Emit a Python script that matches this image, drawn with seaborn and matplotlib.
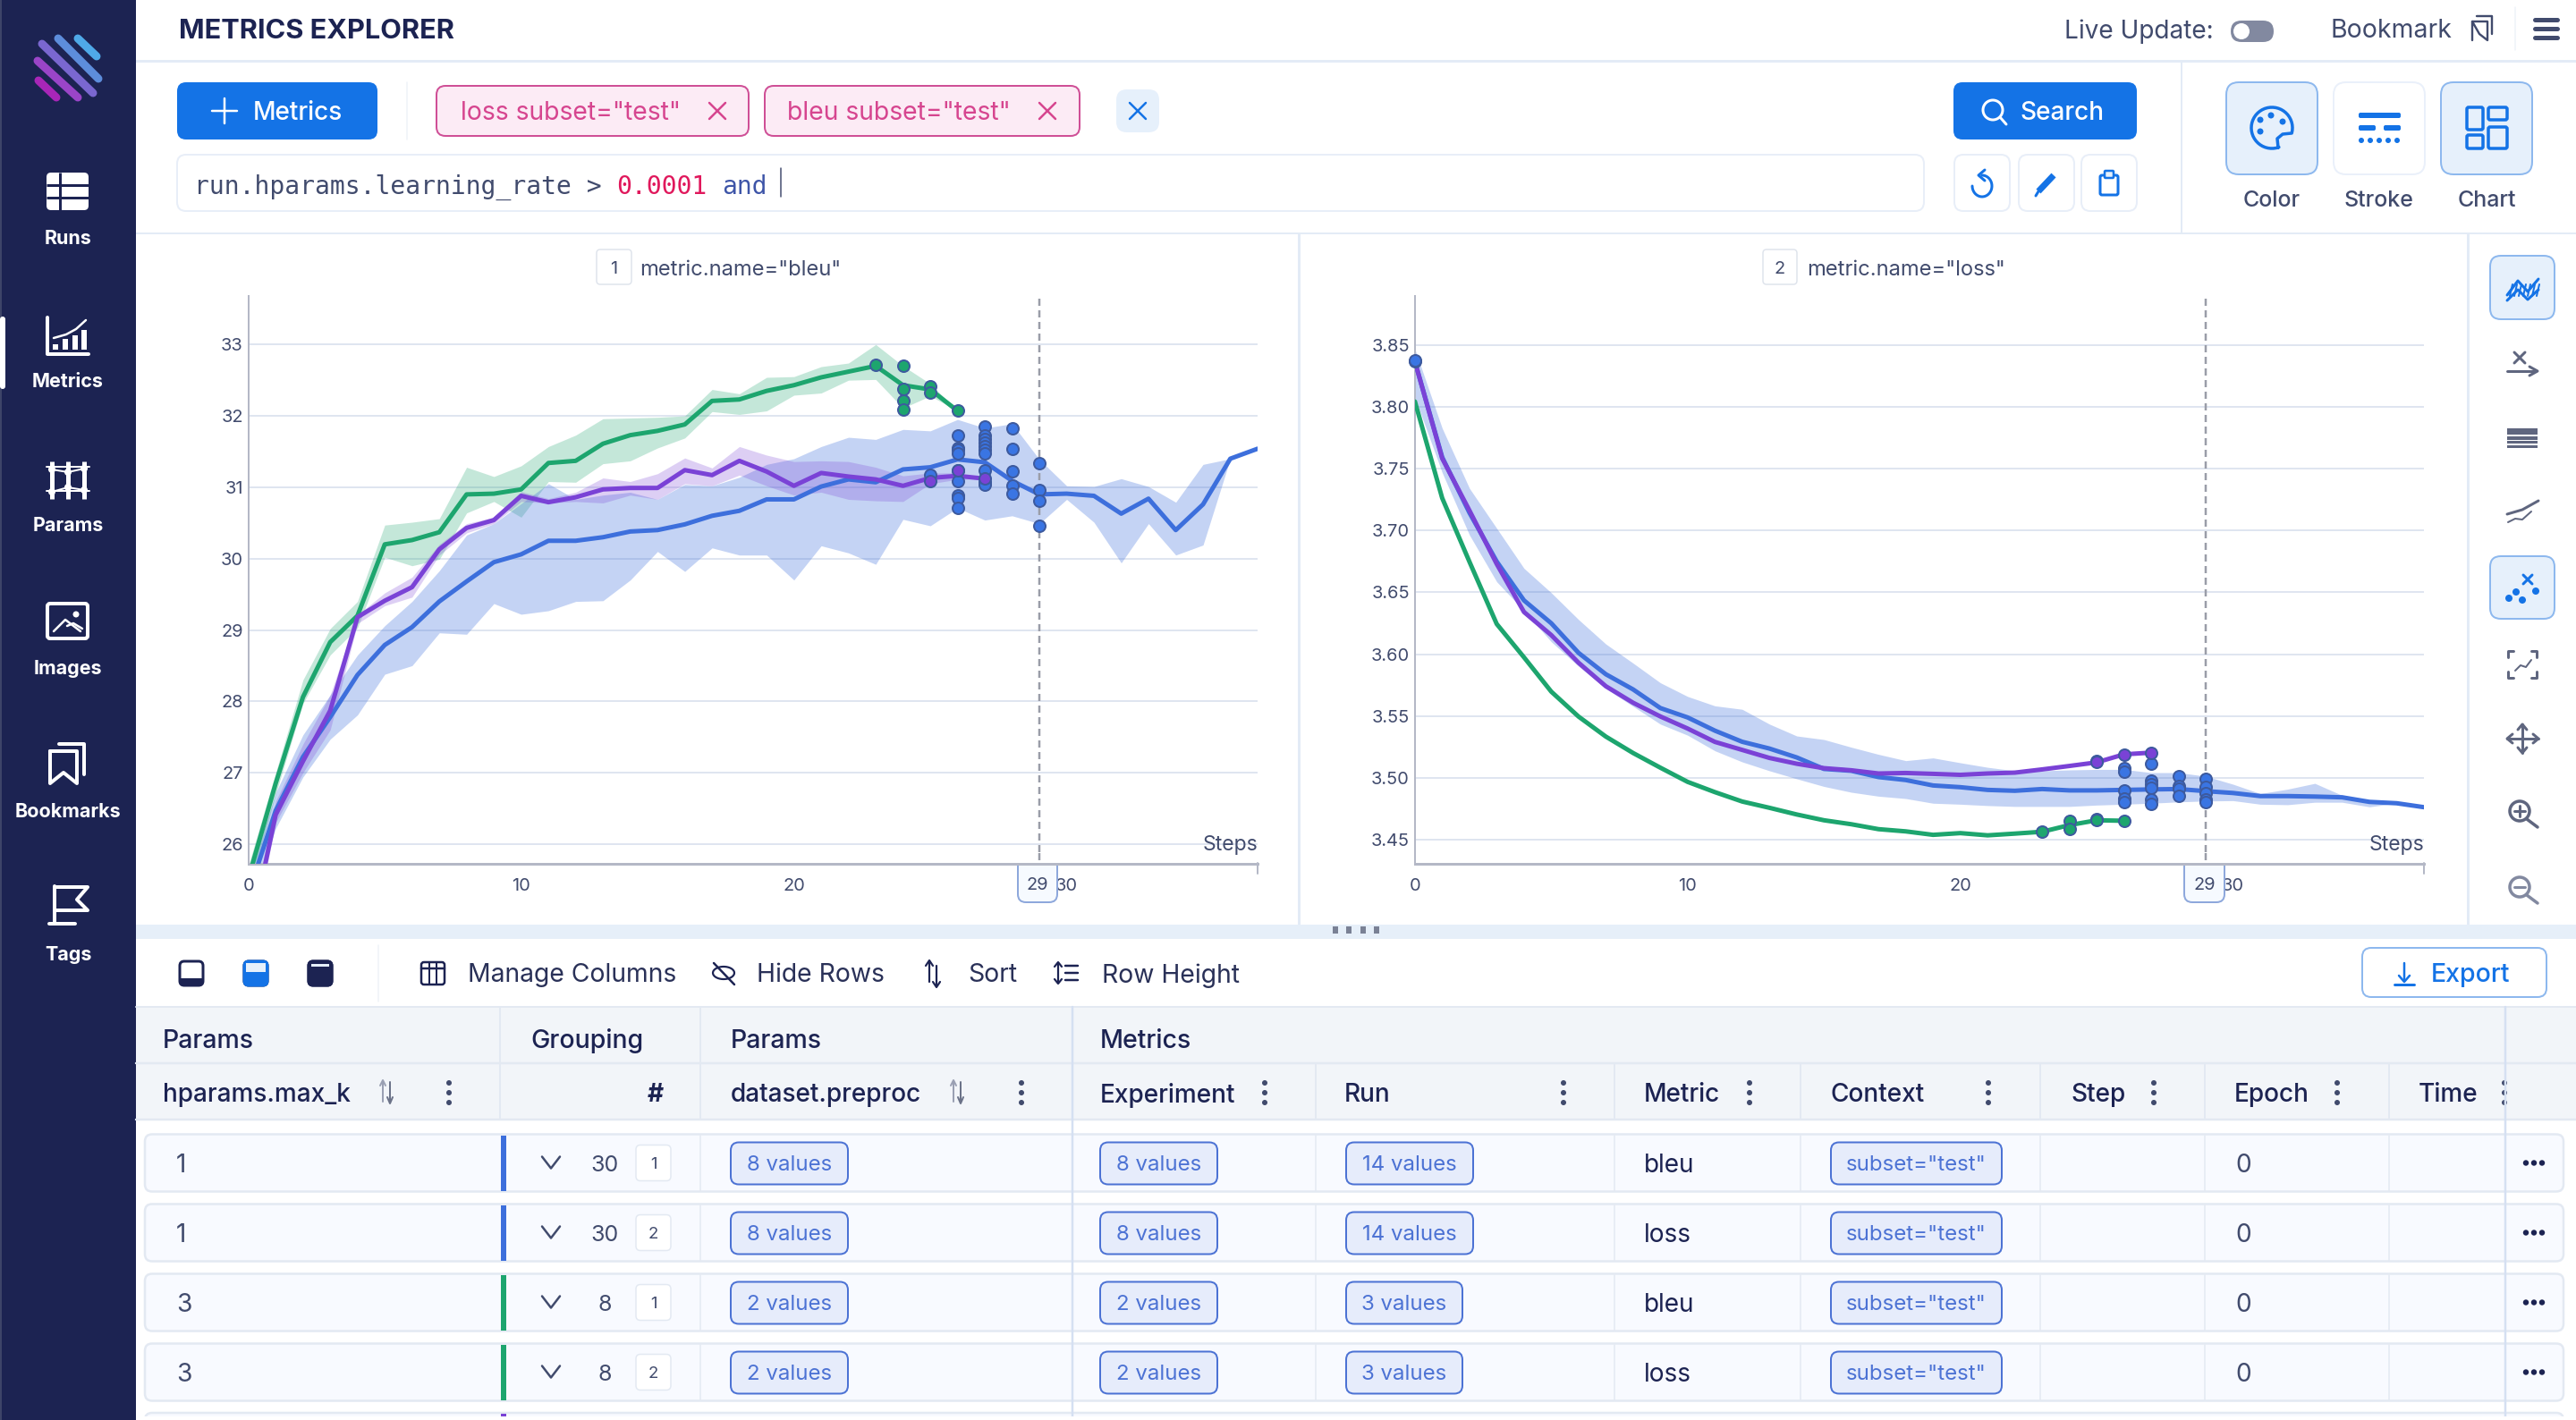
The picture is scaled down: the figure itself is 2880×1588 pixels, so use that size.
import matplotlib
matplotlib.use("Agg")
import matplotlib.pyplot as plt
from matplotlib.patches import FancyBboxPatch, Circle, Rectangle
import numpy as np
import seaborn as sns

# ---------- chart data ----------
bleu_blue = [25.3,26.47,27.22,27.78,28.37,28.79,29.04,29.40,29.68,29.95,30.06,30.25,30.25,30.30,30.38,30.40,30.48,30.60,30.67,30.83,30.83,31.01,31.11,31.07,31.25,31.28,31.39,31.35,31.09,30.90,30.91,30.88,30.63,30.84,30.40,30.76,31.40,31.54]
bleu_blue_hi = [25.5,26.72,27.53,28.09,28.65,29.06,29.40,29.83,30.33,30.49,30.77,31.05,30.83,30.89,30.93,30.83,31.04,31.02,31.14,31.32,31.40,31.57,31.70,31.67,31.81,31.79,31.95,31.83,31.89,31.39,31.02,31.01,31.12,31.01,30.79,31.32,31.40,31.54]
bleu_blue_lo = [25.1,26.22,26.94,27.47,27.81,28.38,28.50,28.96,28.94,29.37,29.22,29.27,29.40,29.41,29.70,30.10,29.82,30.15,30.05,30.05,29.70,30.18,30.08,29.92,30.55,30.46,30.71,30.54,30.60,30.49,30.83,30.51,29.94,30.49,30.05,30.19,31.40,31.54]
bleu_green = [25.52,26.85,28.06,28.83,29.20,30.20,30.26,30.37,30.90,30.91,30.97,31.34,31.37,31.61,31.73,31.79,31.88,32.21,32.23,32.35,32.43,32.54,32.62,32.70,32.43,32.37,32.07]
bleu_green_hi = [25.7,27.00,28.30,29.02,29.40,30.47,30.51,30.56,31.28,31.15,31.30,31.57,31.73,31.96,31.97,31.98,32.00,32.37,32.31,32.54,32.55,32.69,32.74,33.00,32.70,32.45,32.07]
bleu_green_lo = [25.3,26.70,27.97,28.65,29.03,30.02,29.90,29.99,30.64,30.80,30.58,31.08,31.07,31.33,31.37,31.55,31.69,32.06,32.02,32.07,32.29,32.32,32.50,32.51,32.11,32.28,32.07]
bleu_purple = [24.6,26.41,27.16,27.87,29.18,29.41,29.60,30.13,30.43,30.54,30.88,30.79,30.86,30.97,30.99,30.99,31.24,31.17,31.37,31.22,31.02,31.20,31.15,31.11,31.02,31.13,31.16,31.12]
bleu_purple_hi = [24.8,26.6,27.40,28.09,29.21,29.52,29.74,30.20,30.49,30.58,30.94,30.84,30.93,31.13,31.08,31.19,31.41,31.27,31.57,31.45,31.36,31.37,31.36,31.28,31.16,31.20,31.20,31.12]
bleu_purple_lo = [24.4,26.3,27.00,27.60,29.09,29.34,29.46,30.05,30.36,30.49,30.80,30.78,30.80,30.78,30.89,30.83,31.05,31.02,31.17,31.02,30.89,30.93,30.83,30.81,30.80,31.05,31.11,31.12]

loss_blue = [3.837,3.7595,3.7145,3.675,3.6435,3.625,3.601,3.5837,3.5714,3.5563,3.5487,3.538,3.529,3.5235,3.5163,3.507,3.5055,3.5004,3.498,3.4936,3.4922,3.490,3.4893,3.4907,3.4896,3.4896,3.490,3.4904,3.4907,3.489,3.4875,3.485,3.485,3.4846,3.484,3.4803,3.4792,3.476]
loss_blue_hi = [3.847,3.783,3.7343,3.7019,3.6695,3.6497,3.628,3.6082,3.5927,3.5768,3.5657,3.5581,3.5553,3.5433,3.5337,3.5308,3.5246,3.5188,3.5137,3.5159,3.512,3.5083,3.5055,3.5055,3.5062,3.5066,3.5066,3.504,3.504,3.5011,3.4946,3.487,3.4906,3.4953,3.4856,3.4817,3.4792,3.476]
loss_blue_lo = [3.808,3.747,3.6965,3.6586,3.6352,3.610,3.5902,3.5722,3.5577,3.5433,3.5343,3.5217,3.5127,3.5055,3.499,3.4928,3.4881,3.4849,3.483,3.4792,3.4784,3.4773,3.4766,3.4766,3.4766,3.4777,3.4784,3.4792,3.4803,3.481,3.4813,3.4784,3.478,3.480,3.480,3.4763,3.4792,3.476]
loss_green = [3.8046,3.7264,3.6748,3.6244,3.5974,3.5696,3.5494,3.5332,3.5199,3.508,3.4965,3.4882,3.4806,3.4755,3.4701,3.4654,3.4622,3.4582,3.4564,3.4536,3.455,3.4532,3.4546,3.4561,3.4615,3.4654,3.465]
loss_purple = [3.837,3.7585,3.7163,3.673,3.6341,3.6154,3.593,3.574,3.5606,3.5495,3.5397,3.5289,3.5224,3.5159,3.5112,3.5076,3.5059,3.5033,3.5037,3.503,3.5022,3.5033,3.504,3.5066,3.5094,3.5123,3.5188,3.5202]

bleu_pts_green_x = [23,24,24,24,24,25,25,26]
bleu_pts_green_y = [32.71,32.70,32.38,32.21,32.09,32.41,32.33,32.07]
bleu_pts_blue_x = [25] + [26]*9 + [27]*10 + [28]*5 + [29]*4
bleu_pts_blue_y = [31.17,31.72,31.55,31.52,31.47,31.24,31.09,30.89,30.85,30.71,31.85,31.72,31.67,31.63,31.58,31.52,31.47,31.24,31.08,31.03,31.82,31.54,31.23,31.02,30.91,31.34,30.96,30.81,30.46]
bleu_pts_purple_x = [25,26,27]
bleu_pts_purple_y = [31.09,31.24,31.12]

loss_pts_green_x = [23,24,24,25,25,26]
loss_pts_green_y = [3.4561,3.4651,3.4583,3.4666,3.4659,3.4651]
loss_pts_purple_x = [25,26,27]
loss_pts_purple_y = [3.5127,3.5188,3.5203]
loss_pts_blue_x = [0,0,25] + [26]*5 + [27]*6 + [28]*4 + [29]*5
loss_pts_blue_y = [3.837,3.838,3.5134,3.5073,3.5051,3.4893,3.4832,3.4803,3.5113,3.4976,3.4947,3.4918,3.4821,3.4785,3.5012,3.4929,3.4911,3.4853,3.499,3.4922,3.4875,3.4821,3.4799]

bleu_ticks = [26,27,28,29,30,31,32,33]
loss_ticks = [3.45,3.50,3.55,3.60,3.65,3.70,3.75,3.80,3.85]
x_ticks = [0,10,20,30]
cursor_step = 29

# ---------- labels ----------
sidebar_labels = ["Runs","Metrics","Params","Images","Bookmarks","Tags"]
header_groups = [("Params",182),("Grouping",593),("Params",817),("Metrics",1230)]
row_maxk = ["1","1","3","3"]
row_count = ["30","30","8","8"]
row_chart = ["1","2","1","2"]
row_dataset = ["8 values","8 values","2 values","2 values"]
row_run = ["14 values","14 values","3 values","3 values"]
row_metric = ["bleu","loss","bleu","loss"]

NAVY="#1c2352"; BLUE="#1473e6"; TXT="#414b6d"; DARK="#1c2352"; SOFT="#2a3158"
LINE_B="#3d6fdc"; LINE_G="#1da56e"; LINE_P="#7a42d6"; EDGE="#3d5a9e"; DOT_B="#3a75e3"
PALE="#e6f0fb"; BORD="#e3e9f2"

sns.set_theme(style="white")
plt.rcParams["font.family"] = ["Inter","DejaVu Sans"]

fig = plt.figure(figsize=(28.8,15.88), dpi=100, facecolor="white")
def overlay(z):
    a = fig.add_axes([0,0,1,1], zorder=z)
    a.set_xlim(0,2880); a.set_ylim(1588,0); a.axis("off"); a.patch.set_alpha(0)
    return a
bg = overlay(0)
top = overlay(10)

def pt(px): return px*0.72
def box(x0,y0,x1,y1,r=0,fc="white",ec="none",lw=1.5,a=bg,z=2):
    if r:
        p = FancyBboxPatch((x0,y0),x1-x0,y1-y0,boxstyle=f"round,pad=0,rounding_size={r}",fc=fc,ec=ec,lw=pt(lw),zorder=z)
    else:
        p = Rectangle((x0,y0),x1-x0,y1-y0,fc=fc,ec=ec,lw=pt(lw),zorder=z)
    a.add_patch(p); return p
def txt(x,y,s,px=29,c=TXT,ha="left",w="normal",fam=None,a=bg,z=5):
    kw = {"family":fam} if fam else {}
    return a.text(x,y,s,fontsize=pt(px),color=c,ha=ha,va="center_baseline",fontweight=w,zorder=z,**kw)
def ln(xs,ys,c="white",lw=3,a=bg,z=4,cap="round",ls="-"):
    a.plot(xs,ys,color=c,lw=pt(lw),solid_capstyle=cap,ls=ls,zorder=z,solid_joinstyle="round")
def dot(x,y,r,c="white",a=bg,z=4,ec="none",lw=1):
    a.add_patch(Circle((x,y),r,fc=c,ec=ec,lw=pt(lw),zorder=z))
def cross(x,y,r,c,lw=2.5):
    ln([x-r,x+r],[y-r,y+r],c,lw); ln([x-r,x+r],[y+r,y-r],c,lw)

# ---------- sidebar ----------
box(0,0,152,1588,fc=NAVY,z=1)
box(0,0,2,1588,fc="#3d4468",z=1)
box(0,354,6,435,r=3,fc="white")
for (xy,c) in [(((87,108),(43,63)),"#4fa9e8"),(((65,110),(43,88)),"#5d8ddb"),(((47,104),(49,104)),"#7a67d0"),(((42,87),(68,109)),"#9a45c8"),(((43,63),(90,109)),"#a826b8")]:
    ln(xy[0],xy[1],c,9)
for lab,y in zip(sidebar_labels,[265,425,586,746,906,1066]):
    txt(76,y,lab,21.5,"white","center","bold")
# Runs icon
box(52,193,99,235,r=5,fc="white")
ln([52,99],[207,207],NAVY,3,cap="butt"); ln([52,99],[221,221],NAVY,3,cap="butt"); ln([67,67],[193,235],NAVY,3,cap="butt")
# Metrics icon
ln([53,53,99],[355,396,396],"white",4)
for x,h in [(62,6),(73,12),(84,16),(94,22)]:
    box(x-3,391-h,x+3,391,fc="white")
ln([60,74,85,96],[378,374,368,358],"white",2.5)
# Params icon
for x in [58,76,94]: ln([x,x],[516,558],"white",5,cap="butt")
ln([52,100],[522,522],"white",2); ln([52,100],[549,549],"white",2)
ln([58,76,94],[525,528,524],"white",2); ln([58,76,94],[550,545,548],"white",2)
for x,y in [(58,525),(76,528),(94,524),(58,550),(76,545),(94,548)]: dot(x,y,4)
# Images icon
box(53,675,98,714,r=3,fc="none",ec="white",lw=4)
ln([60,73,90],[706,693,706],"white",2.5); ln([75,82,92],[700,697,703],"white",2.5); dot(85,687,3.5)
# Bookmarks icon
ln([56,56,71,86,86,56],[840,876,864,876,840,840],"white",4)
ln([66,94,94],[832,832,866],"white",4)
# Tags icon
ln([55,84],[1033,1033],"white",4); ln([61,61],[1033,991],"white",4)
ln([61,98,86,98,61],[992,992,1006,1018,1018],"white",4)

# ---------- top bar ----------
box(152,67,2880,70,fc="#e3ebf6")
txt(200,32,"METRICS EXPLORER",30.8,DARK,w="bold")
txt(2308,32,"Live Update:",28,TXT)
box(2494,23,2542,47,r=12,fc="#8289a0"); dot(2506,35,9,"white",z=5)
txt(2606,32,"Bookmark",28.4,TXT)
ln([2764,2764,2772,2781,2781,2764],[45,24,38,45,24,24],TXT,2.4); ln([2769,2786,2786],[18,18,38],TXT,2.4)
ln([2812,2812],[8,56],"#eef2f8",1.5)
for y in [22,32,42]: ln([2834,2859],[y,y],TXT,5)

# ---------- search block ----------
box(198,92,422,156,r=10,fc=BLUE)
ln([237,265],[124,124],"white",2.5); ln([251,251],[110,138],"white",2.5)
txt(283,124,"Metrics",28,"white",w="medium")
ln([455,455],[92,156],"#eef2f8",1.5)
for (x0,x1,tx,xx,s) in [(488,837,515,802,'loss subset="test"'),(855,1207,880,1171,'bleu subset="test"')]:
    box(x0,96,x1,152,r=10,fc="#fcebf5",ec="#cf4f96",lw=2)
    txt(tx,124,s,28.3,"#d6458f")
    cross(xx,124,9,"#d6458f",2.5)
box(1248,100,1296,148,r=12,fc=PALE); cross(1272,124,9,BLUE,2.5)
box(198,173,2151,236,r=10,fc="white",ec="#e8eef8",lw=2)
mono="DejaVu Sans Mono"
txt(217,206,"run.hparams.learning_rate >",28,TXT,fam=mono)
txt(217+16.85*28,206,"0.0001",28,"#e0185c",fam=mono)
txt(217+16.85*35,206,"and",28,"#3e55a8",fam=mono)
ln([873,873],[188,220],TXT,1.5)
box(2184,92,2389,156,r=10,fc=BLUE)
bg.add_patch(Circle((2228,123),11,fc="none",ec="white",lw=pt(3),zorder=4)); ln([2236,2243],[131,139],"white",3)
txt(2258,124,"Search",28,"white",w="medium")
for x0,x1 in [(2185,2247),(2257,2319),(2327,2389)]:
    box(x0,173,x1,236,r=10,fc="white",ec="#e8eef8",lw=2)
th=np.linspace(-np.pi/2,np.pi,30)
ln(2216+11*np.cos(th),208+12*np.sin(th),BLUE,3); ln([2219,2212,2219],[190,196,202],BLUE,3)
ln([2279,2296],[214,196],BLUE,7,cap="butt"); ln([2276,2279],[219,214],BLUE,3)
box(2348,196,2368,218,r=2,fc="none",ec=BLUE,lw=3); box(2353,191,2363,199,r=1,fc=PALE,ec=BLUE,lw=2.5,z=5)
ln([2439,2439],[70,260],"#e3ebf6",2)
for (x0,x1,act,lab) in [(2489,2591,True,"Color"),(2609,2711,False,"Stroke"),(2729,2831,True,"Chart")]:
    box(x0,92,x1,195,r=14,fc=PALE if act else "white",ec="#8db8ee" if act else "#eaf0fa",lw=2)
    txt((x0+x1)/2,222,lab,25,TXT,"center",w="medium")
th=np.radians(np.linspace(70,375,40))
pal_x=list(2540+23*np.cos(th))+[2552,2546,2547]
pal_y=list(143+23*np.sin(th))+[150,155,165]
ln(pal_x,pal_y,BLUE,3.5)
for x,y in [(2527,134),(2539,129),(2552,136),(2527,147)]: dot(x,y,3.5,BLUE)
box(2637,126,2684,132,fc=BLUE,r=2)
box(2637,140,2656,146,fc=BLUE,r=2); box(2665,140,2684,146,fc=BLUE,r=2)
for x in np.arange(2640,2684,10): dot(x,157,3,BLUE)
for (a0,a1,b0,b1) in [(2758,2776,120,145),(2782,2803,120,134),(2758,2776,151,166),(2782,2803,142,166)]:
    box(a0,b0,a1,b1,r=2,fc="none",ec=BLUE,lw=3.5)

# ---------- dividers ----------
box(152,260,2880,262,fc="#e3ebf6")
box(1451,260,1454,1036,fc="#e3ebf6")
box(2758,260,2761,1036,fc="#e3ebf6")
box(152,1034,2880,1050,fc="#e6eff9")
for x in [1490,1505,1521,1536]: box(x,1036,x+6,1044,fc="#7a8195",z=6)

# ---------- right toolbar ----------
box(2784,286,2856,357,r=12,fc=PALE,ec="#8db8ee",lw=2)
box(2784,622,2856,692,r=12,fc=PALE,ec="#8db8ee",lw=2)
GR="#5f667f"
ln([2803,2815,2826,2838],[330,314,326,312],BLUE,3); ln([2803,2815,2826,2838],[336,324,335,324],BLUE,3)
for x in range(2806,2838,5): ln([x,x+3],[331,318],BLUE,2)
ln([2803,2835],[415,415],GR,3); ln([2828,2837,2828],[410,415,420],GR,3); cross(2817,400,6,GR,3)
for y,h in [(480,7),(489,4),(494,3),(499,3)]: box(2803,y-1,2837,y-1+h,fc=GR)
ln([2803,2820,2838],[575,570,560],GR,3); ln([2804,2812,2820,2830],[584,580,581,572],GR,2)
for x,y in [(2805,669),(2820,671),(2813,662),(2835,661)]: dot(x,y,4,BLUE)
cross(2826,648,5,BLUE,3)
for sx,sy in [(2804,728),(2836,728),(2804,758),(2836,758)]:
    dx = 1 if sx<2820 else -1; dy = 1 if sy<743 else -1
    ln([sx,sx,sx+dx*6],[sy+dy*7,sy,sy],GR,3)
ln([2812,2818,2824,2830],[750,744,746,738],GR,2)
ln([2803,2838],[826,826],GR,3); ln([2820,2820],[810,842],GR,3)
ln([2809,2803,2809],[821,826,831],GR,3); ln([2832,2838,2832],[821,826,831],GR,3)
ln([2815,2820,2825],[816,810,816],GR,3); ln([2815,2820,2825],[836,842,836],GR,3)
for (y,c,plus) in [(907,GR,True),(992,"#8289a0",False)]:
    bg.add_patch(Circle((2817,y),11,fc="none",ec=c,lw=pt(3.5),zorder=4))
    ln([2825,2837],[y+9,y+18],c,3.5); ln([2811,2823],[y,y],c,3)
    if plus: ln([2817,2817],[y-6,y+6],c,3)

# ---------- chart titles ----------
for (x0,x1,num,tx,s) in [(667,706,"1",715,'metric.name="bleu"'),(1971,2009,"2",2020,'metric.name="loss"')]:
    box(x0,279,x1,318,r=4,fc="white",ec="#dfe4ec",lw=1.5)
    txt((x0+x1)/2,299,num,20,TXT,"center")
    txt(tx,299,s,23.7,TXT)

# ---------- charts ----------
def chart_ax(x0,x1,y0=330.6,y1=965.5):
    a = fig.add_axes([x0/2880,1-y1/1588,(x1-x0)/2880,(y1-y0)/1588],zorder=5)
    a.patch.set_alpha(0)
    return a

def style(a,ylim,ticks,fmt):
    a.set_xlim(0,37); a.set_ylim(*ylim)
    a.set_xticks(x_ticks); a.set_yticks(ticks); a.set_yticklabels([fmt%t for t in ticks])
    a.tick_params(axis="y",length=0,pad=pt(6),labelsize=pt(20),labelcolor=TXT)
    a.tick_params(axis="x",length=0,pad=pt(16),labelsize=pt(20),labelcolor=TXT)
    a.set_xlabel(""); a.set_ylabel("")
    a.grid(axis="y",color="#dfe5f0",lw=pt(2),zorder=0); a.grid(axis="x",visible=False)
    a.set_axisbelow(True)
    for s in ["top","right"]: a.spines[s].set_visible(False)
    a.spines["left"].set_color("#b4b8c6"); a.spines["left"].set_linewidth(pt(2))
    a.spines["bottom"].set_color("#b4b8c6"); a.spines["bottom"].set_linewidth(pt(3))
    a.axvline(cursor_step,color="#9a9da8",lw=pt(2.5),ls=(0,(3.2,2)),zorder=2.5)

def draw(a,series,points):
    for (mean,hi,lo,col,alpha,lw) in series:
        xs = np.arange(len(mean))
        if hi is not None:
            a.fill_between(xs,lo,hi,color=col,alpha=alpha,lw=0,zorder=2)
    for (mean,hi,lo,col,alpha,lw) in series:
        xs = np.arange(len(mean))
        sns.lineplot(x=xs,y=mean,color=col,lw=pt(lw),ax=a,estimator=None,zorder=3,legend=False)
    for (px,py,col) in points:
        sns.scatterplot(x=px,y=py,color=col,edgecolor=EDGE,linewidth=pt(2),s=pt(13)**2,ax=a,zorder=5,clip_on=False,legend=False)

ax1 = chart_ax(277.7,1406)
draw(ax1,[(bleu_green,bleu_green_hi,bleu_green_lo,LINE_G,.26,5),
          (bleu_blue,bleu_blue_hi,bleu_blue_lo,LINE_B,.30,5),
          (bleu_purple,bleu_purple_hi,bleu_purple_lo,LINE_P,.25,5)],
     [(bleu_pts_green_x,bleu_pts_green_y,LINE_G),(bleu_pts_blue_x,bleu_pts_blue_y,DOT_B),(bleu_pts_purple_x,bleu_pts_purple_y,LINE_P)])
style(ax1,(25.73,33.685),bleu_ticks,"%d")

ax2 = chart_ax(1581.9,2710)
draw(ax2,[(loss_green,[v+.001 for v in loss_green],[v-.001 for v in loss_green],LINE_G,.26,5),
          (loss_blue,loss_blue_hi,loss_blue_lo,LINE_B,.30,5),
          (loss_purple,None,None,LINE_P,0,5)],
     [(loss_pts_green_x,loss_pts_green_y,LINE_G),(loss_pts_blue_x,loss_pts_blue_y,DOT_B),(loss_pts_purple_x,loss_pts_purple_y,LINE_P)])
style(ax2,(3.4305,3.8904),loss_ticks,"%.2f")

for (right,bx0,bx1) in [(1406,1138,1182),(2710,2442,2487)]:
    txt(right,943,"Steps",23,TXT,"right",a=top)
    ln([right,right],[965,977],"#b4b8c6",2,a=top)
    box(bx0,960,bx1,1009,r=9,fc="#f6faff",ec="#8ea8dc",lw=2,a=top)
    box(bx0-2,954,bx1+2,966,fc="white",a=top,z=3)
    ln([bx0-4,bx1+4],[965.5,965.5],"#b4b8c6",3,a=top,cap="butt")
    txt((bx0+bx1)/2,988,str(cursor_step),20,TXT,"center",a=top)
    ln([(bx0+bx1)/2+1.5]*2,[954,965],"#9a9da8",2.5,a=top,ls=(0,(3.2,2)))

# ---------- table toolbar ----------
for x,kind in [(214,0),(286,1),(358,2)]:
    box(x-13,1075,x+13,1102,r=5,fc="white",ec=DARK,lw=3)
    if kind==0: box(x-12,1094,x+12,1101,fc=DARK,z=4)
    if kind==1:
        box(x-13,1075,x+13,1102,r=5,fc=BLUE,ec=BLUE,lw=3); box(x-11,1077,x+11,1087,fc=PALE,z=4)
    if kind==2:
        box(x-13,1075,x+13,1102,r=5,fc=DARK,ec=DARK,lw=3); box(x-10,1078,x+10,1081,fc=PALE,z=4)
ln([423,423],[1057,1120],"#eef2f8",1.5)
box(471,1076,497,1101,r=3,fc="none",ec=DARK,lw=2.5)
ln([471,497],[1083,1083],DARK,2.5); ln([480,480],[1076,1101],DARK,2); ln([488,488],[1076,1101],DARK,2)
th=np.linspace(0,2*np.pi,40)
ln(809+12*np.cos(th),1088+7*np.sin(th),DARK,2.2); ln([798,821],[1077,1101],DARK,2.5)
ln([1039,1039],[1076,1098],DARK,2.2); ln([1047,1047],[1080,1102],DARK,2.2)
ln([1035,1039,1043],[1080,1074,1080],DARK,2.2); ln([1043,1047,1051],[1098,1104,1098],DARK,2.2)
ln([1183,1183],[1077,1099],DARK,2.2); ln([1179,1183,1187],[1081,1076,1081],DARK,2.2); ln([1179,1183,1187],[1095,1100,1095],DARK,2.2)
for y in [1080,1088,1096]: ln([1191,1205],[y,y],DARK,2.5)
for x,s in [(523,"Manage Columns"),(846,"Hide Rows"),(1082,"Sort"),(1232,"Row Height")]:
    txt(x,1088,s,28.3,SOFT)
box(2641,1060,2847,1115,r=10,fc="white",ec="#8db8ee",lw=2)
ln([2688,2688],[1077,1097],BLUE,2.5); ln([2682,2688,2694],[1091,1098,1091],BLUE,2.5); ln([2677,2699,],[1101,1101],BLUE,3)
txt(2718,1088,"Export",28.5,BLUE,w="medium")

# ---------- table header ----------
box(152,1126,2880,1252,fc="#f2f5f9",z=1)
ln([152,2880],[1126,1126],BORD,2,z=2); ln([152,2880],[1189,1189],BORD,2.5,z=2); ln([152,2880],[1252,1252],BORD,2.5,z=2)
for x in [559,783,1471,1805,2013,2281,2465,2671]:
    ln([x,x],[1189 if x>1199 else 1126,1252],BORD,2,z=2)
for s,x in header_groups:
    txt(x,1161,s,28.5,DARK,w="medium")
hdr=[("hparams.max_k",182),("dataset.preproc",817),("Experiment",1230),("Run",1503),("Metric",1838),("Context",2046),("Step",2315),("Epoch",2498),("Time",2704)]
for s,x in hdr:
    txt(x,1222,s,28,DARK,w="medium")
txt(733,1222,"#",28,DARK,"center",w="bold")
for x in [502,1142,1414,1748,1956,2223,2408,2613]:
    for dy in [-11,0,11]: dot(x,1222+dy,3,TXT,z=5)
for x in [2800]:
    for dy in [-11,0,11]: dot(x,1222+dy,3,TXT,z=1)
for x in [432,1070]:
    ln([x-4,x-4],[1209,1232],"#9aa0b3",2); ln([x-7,x-4,x-1],[1214,1208,1214],"#9aa0b3",2)
    ln([x+4,x+4],[1210,1233],"#6b7288",2); ln([x+1,x+4,x+7],[1227,1234,1227],"#6b7288",2)

# ---------- table rows ----------
bars=[LINE_B,LINE_B,LINE_G,LINE_G]
def row_shell(y0,y1):
    box(162,y0,2866,y1,r=8,fc="#f8faff",ec=BORD,lw=2.5,z=1.5)
    for x in [783,1471,1805,2013,2281,2465,2671]:
        ln([x,x],[y0+1,y1-1],BORD,1.5,z=2)
for i,y in enumerate([1300.5,1378.5,1456.5,1534.5]):
    y0,y1=y-32,y+32
    row_shell(y0,y1)
    box(560,y0+1,566,y1-1,fc=bars[i],z=3)
    txt(197,y,row_maxk[i],28,TXT)
    ln([606,616,626],[y-7,y+6,y-7],TXT,2.5)
    txt(676,y,row_count[i],25,TXT,"center")
    box(711,y-20,750,y+20,r=5,fc="white",ec=BORD,lw=1.5,z=3)
    txt(730.5,y,row_chart[i],18.5,TXT,"center")
    for (a0,a1,s) in [(817,948,row_dataset[i]),(1230,1361,row_dataset[i]),(1505,1647 if i<2 else 1635,row_run[i]),(2047,2238,'subset="test"')]:
        box(a0,y-23,a1,y+24,r=9,fc="#e6ecfb",ec="#4c72d4",lw=2,z=3)
        txt((a0+a1)/2,y,s,24,"#4c72d4","center")
    txt(1838,y,row_metric[i],28,DARK)
    txt(2499,y,"0",28,TXT)
    for dx in [-9,0,9]: dot(2833+dx,y,3.2,DARK,z=5)
box(162,1580,2866,1600,r=8,fc="#f8faff",ec=BORD,lw=2.5,z=1.5)
box(560,1581,566,1590,fc=LINE_P,z=3)
# sticky column rules
ln([1199,1199],[1126,1588],"#d5e0f2",2.5,z=4)
ln([2801,2801],[1126,1588],"#d5e0f2",2.5,z=4)
box(152,1584,2880,1588,fc="white",z=6)

fig.savefig("out.png",dpi=100,facecolor="white")
